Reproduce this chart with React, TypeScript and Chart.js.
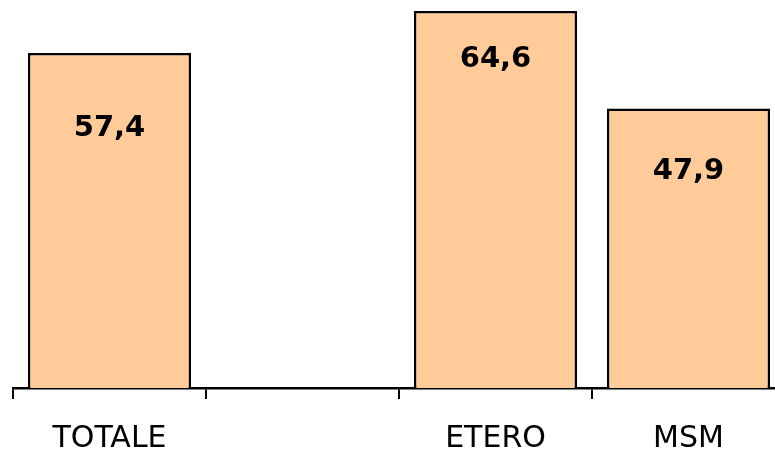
import React, { useEffect, useRef } from "react";
import { Chart, registerables } from "chart.js";

Chart.register(...registerables);

const categories: string[] = ["TOTALE", "", "ETERO", "MSM"];
const values: (number | null)[] = [57.4, null, 64.6, 47.9];
// distance in px from the top of each bar to the centre of its value label
const labelOffsets: number[] = [75, 0, 48, 63];

const FONT = "'DejaVu Sans', Verdana, sans-serif";

const valueLabels = {
  id: "valueLabels",
  afterDatasetsDraw(chart: any) {
    const ctx = chart.ctx;
    const meta = chart.getDatasetMeta(0);
    ctx.save();
    ctx.font = `bold 29px ${FONT}`;
    ctx.fillStyle = "#000";
    ctx.textAlign = "center";
    ctx.textBaseline = "middle";
    meta.data.forEach((bar: any, i: number) => {
      const v = values[i];
      if (v == null) return;
      const text = v.toFixed(1).replace(".", ",");
      ctx.fillText(text, bar.x, bar.y + labelOffsets[i]);
    });
    ctx.restore();
  },
};

export default function App() {
  const ref = useRef<HTMLCanvasElement>(null);

  useEffect(() => {
    if (!ref.current) return;
    const chart = new Chart(ref.current, {
      type: "bar",
      data: {
        labels: categories,
        datasets: [
          {
            data: values,
            backgroundColor: "#FFCC99",
            borderColor: "#000000",
            borderWidth: 2.5,
            barPercentage: 0.845,
            categoryPercentage: 1,
          },
        ],
      },
      options: {
        responsive: false,
        animation: false,
        layout: { padding: { left: 13, right: 15, top: 0, bottom: 0 } },
        plugins: {
          legend: { display: false },
          tooltip: { enabled: false },
        },
        scales: {
          x: {
            grid: {
              drawOnChartArea: false,
              drawTicks: true,
              tickLength: 11,
              color: "#000",
              lineWidth: 2,
            },
            border: { display: true, color: "#000", width: 2.5 },
            ticks: {
              color: "#000",
              padding: 22.5,
              font: { family: FONT, size: 30 },
            },
          },
          y: {
            display: false,
            min: 0,
            max: 66.5,
          },
        },
      },
      plugins: [valueLabels],
    });
    return () => chart.destroy();
  }, []);

  return (
    <div
      style={{
        position: "fixed",
        left: 0,
        top: 0,
        width: 775,
        height: 455,
        overflow: "hidden",
        background: "#fff",
      }}
    >
      <canvas ref={ref} width={800} height={480} style={{ display: "block" }} />
    </div>
  );
}
